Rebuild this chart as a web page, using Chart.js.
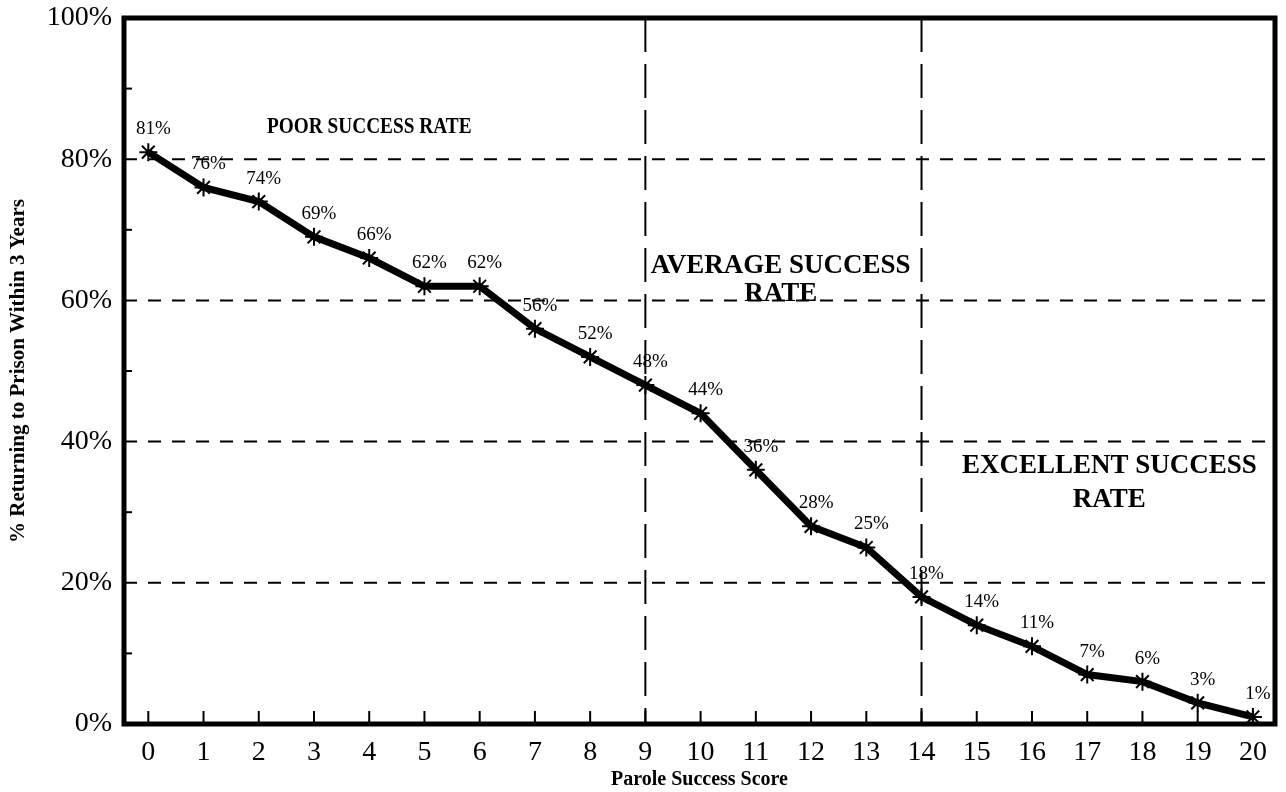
<!DOCTYPE html>
<html>
<head>
<meta charset="utf-8">
<script src="https://cdn.jsdelivr.net/npm/chart.js@4.4.1/dist/chart.umd.min.js"></script>
<style>
  html, body { margin: 0; padding: 0; background: #fff; }
  #wrap { width: 1286px; height: 792px; }
</style>
</head>
<body>
<div id="wrap"><canvas id="chart" width="1286" height="792"></canvas></div>
<script>
// data
var scores = [0,1,2,3,4,5,6,7,8,9,10,11,12,13,14,15,16,17,18,19,20];
var returnPct = [81,76,74,69,66,62,62,56,52,48,44,36,28,25,18,14,11,7,6,3,1];
var yTicks = [0,20,40,60,80,100];
var yMinor = [10,30,50,70,90];
var dividers = [9,14];
var regionLabels = [
    {lines: ["POOR SUCCESS RATE"], x: 4.0, y: 84.6, size: 23, sx: 0.84, gap: 0},
    {lines: ["AVERAGE SUCCESS", "RATE"], x: 11.45, y: 64.9, size: 27, sx: 1, gap: 28},
    {lines: ["EXCELLENT SUCCESS", "RATE"], x: 17.4, y: 36.5, size: 27, sx: 1, gap: 34}
];

var serif = "'Liberation Serif', 'DejaVu Serif', serif";

var points = scores.map(function (s, i) { return {x: s, y: returnPct[i]}; });

// frame, dashed grid, inward ticks, point labels and region texts
var decor = {
    id: 'decor',
    beforeDatasetsDraw: function (chart) {
        var ctx = chart.ctx, a = chart.chartArea;
        var xs = chart.scales.x, ys = chart.scales.y;
        ctx.save();
        ctx.strokeStyle = '#000';
        ctx.lineWidth = 2;
        ctx.setLineDash([13, 11]);
        [20,40,60,80].forEach(function (v) {
            var py = ys.getPixelForValue(v);
            ctx.beginPath(); ctx.moveTo(a.left, py); ctx.lineTo(a.right, py); ctx.stroke();
        });
        ctx.setLineDash([34, 12]);
        dividers.forEach(function (v) {
            var px = xs.getPixelForValue(v);
            ctx.beginPath(); ctx.moveTo(px, a.top); ctx.lineTo(px, a.bottom); ctx.stroke();
        });
        ctx.setLineDash([]);
        // x tick marks (inward)
        scores.forEach(function (v) {
            var px = xs.getPixelForValue(v);
            ctx.beginPath(); ctx.moveTo(px, a.bottom); ctx.lineTo(px, a.bottom - 13); ctx.stroke();
        });
        // y minor ticks (inward)
        yMinor.forEach(function (v) {
            var py = ys.getPixelForValue(v);
            ctx.beginPath(); ctx.moveTo(a.left, py); ctx.lineTo(a.left + 8, py); ctx.stroke();
        });
        // frame
        ctx.lineWidth = 5;
        ctx.strokeRect(a.left, a.top, a.right - a.left, a.bottom - a.top);
        ctx.restore();
    },
    afterDatasetsDraw: function (chart) {
        var ctx = chart.ctx;
        var xs = chart.scales.x, ys = chart.scales.y;
        ctx.save();
        ctx.fillStyle = '#000';
        ctx.textAlign = 'center';
        ctx.textBaseline = 'middle';
        ctx.font = '19px ' + serif;
        returnPct.forEach(function (v, i) {
            var px = xs.getPixelForValue(scores[i]);
            var py = ys.getPixelForValue(v);
            ctx.fillText(v + '%', px + 5, py - 23);
        });
        regionLabels.forEach(function (r) {
            var px = xs.getPixelForValue(r.x);
            var py = ys.getPixelForValue(r.y);
            ctx.font = 'bold ' + r.size + 'px ' + serif;
            r.lines.forEach(function (t, k) {
                ctx.save();
                ctx.translate(px, py + k * r.gap);
                ctx.scale(r.sx, 1);
                ctx.fillText(t, 0, 0);
                ctx.restore();
            });
        });
        ctx.restore();
    }
};

new Chart(document.getElementById('chart').getContext('2d'), {
    type: 'line',
    data: {
        datasets: [{
            data: points,
            borderColor: '#000',
            backgroundColor: '#000',
            borderWidth: 7,
            tension: 0,
            pointStyle: 'star',
            pointRadius: 9,
            pointBorderWidth: 2,
            pointBorderColor: '#000'
        }]
    },
    options: {
        responsive: false,
        animation: false,
        layout: {padding: {left: 0, right: 3, top: 0, bottom: 0}},
        plugins: {legend: {display: false}, tooltip: {enabled: false}},
        scales: {
            x: {
                type: 'linear',
                min: -0.44,
                max: 20.4,
                afterBuildTicks: function (scale) {
                    scale.ticks = scores.map(function (v) { return {value: v}; });
                },
                afterFit: function (scale) {
                    scale.height = 68;
                    scale.paddingLeft = 0;
                    scale.paddingRight = 0;
                },
                grid: {display: false, drawTicks: false},
                border: {display: false},
                ticks: {
                    color: '#000',
                    font: {family: serif, size: 28},
                    padding: 12,
                    maxRotation: 0,
                    autoSkip: false
                },
                title: {
                    display: true,
                    text: 'Parole Success Score',
                    color: '#000',
                    font: {family: serif, size: 20, weight: 'bold'},
                    padding: {top: 0, bottom: 0}
                }
            },
            y: {
                min: 0,
                max: 100,
                afterBuildTicks: function (scale) {
                    scale.ticks = yTicks.map(function (v) { return {value: v}; });
                },
                afterFit: function (scale) {
                    scale.width = 124;
                    scale.paddingTop = 18;
                    scale.paddingBottom = 0;
                },
                grid: {display: false, drawTicks: false},
                border: {display: false},
                ticks: {
                    color: '#000',
                    font: {family: serif, size: 28},
                    padding: 12,
                    callback: function (v) { return v + '%'; }
                },
                title: {
                    display: true,
                    text: '% Returning to Prison Within 3 Years',
                    color: '#000',
                    font: {family: serif, size: 21, weight: 'bold'},
                    padding: {top: 6, bottom: 0}
                }
            }
        }
    },
    plugins: [decor]
});
</script>
</body>
</html>
